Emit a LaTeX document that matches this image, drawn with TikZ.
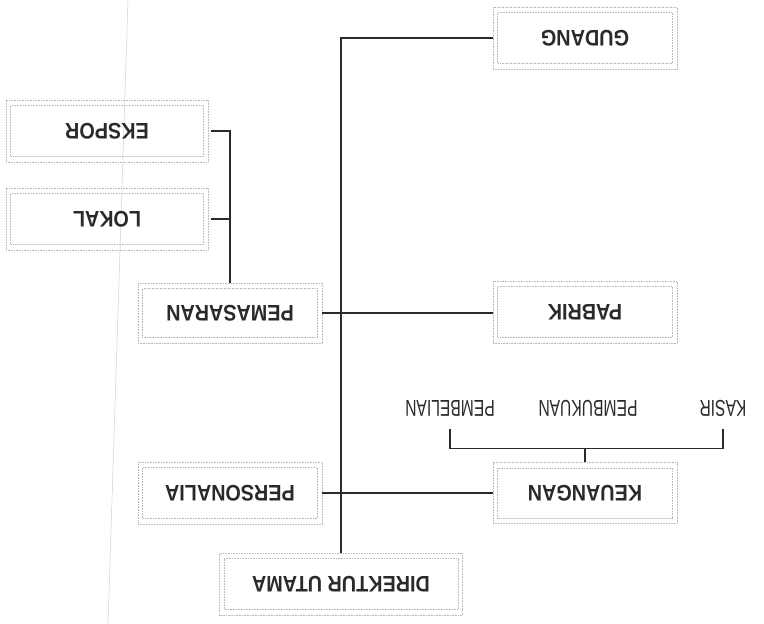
\documentclass[tikz,border=0pt]{standalone}
\usepackage{fontspec}
\usepackage{graphicx}
\setmainfont{Liberation Sans}
\newfontfamily\boldf[FakeStretch=0.88]{Liberation Sans}
\newfontfamily\narrowf[FakeStretch=0.68]{Liberation Sans}
\definecolor{linec}{HTML}{2A2A2A}
\definecolor{boxc}{HTML}{B8B8B8}
\definecolor{textc}{HTML}{2A2A2A}
\tikzset{
  unit box/.style={draw=boxc, densely dotted, line width=0.6pt, minimum height=62pt, minimum width=184pt, inner sep=0pt, text=textc},
  inner frame/.style={draw=boxc, densely dotted, line width=0.6pt},
  conn/.style={draw=linec, line width=1.3pt},
  sublabel/.style={inner sep=0pt, text=textc},
  scanline/.style={draw=black!18, line width=0.5pt}
}
\newcommand{\upsd}[1]{\rotatebox{180}{\fontsize{22.5}{24}\boldf\bfseries #1}}
\newcommand{\upsn}[1]{\rotatebox{180}{\fontsize{23}{24}\narrowf #1}}
\begin{document}
\begin{tikzpicture}[x=1pt, y=-1pt]
\useasboundingbox (0,0) rectangle (764,624);
\draw[scanline] (128,0) -- (108,624);
% boxes
\node[unit box] (gudang) at (585,38) {\upsd{GUDANG}};
\node[unit box, minimum width=202pt] (ekspor) at (107,131) {\upsd{EKSPOR}};
\node[unit box, minimum width=202pt] (lokal) at (107,219) {\upsd{LOKAL}};
\node[unit box, minimum height=60pt] (pemasaran) at (230,313) {\upsd{PEMASARAN}};
\node[unit box] (pabrik) at (585,312) {\upsd{PABRIK}};
\node[unit box, minimum height=61pt] (keuangan) at (585,493) {\upsd{KEUANGAN}};
\node[unit box] (personalia) at (230,493) {\upsd{PERSONALIA}};
\node[unit box, minimum width=243pt] (direktur) at (341,584) {\upsd{DIREKTUR UTAMA}};
% inner frames
\foreach \n in {gudang,ekspor,lokal,pemasaran,pabrik,keuangan,personalia,direktur}
  \draw[inner frame] ([shift={(5pt,-6pt)}]\n.north west) rectangle ([shift={(-5pt,6pt)}]\n.south east);
% sub labels
\node[sublabel] (kasir) at (723,408) {\upsn{KASIR}};
\node[sublabel] (pembukuan) at (588,408) {\upsn{PEMBUKUAN}};
\node[sublabel] (pembelian) at (450,408) {\upsn{PEMBELIAN}};
% connectors
\draw[conn] (gudang.west) -| (direktur.north);
\draw[conn] (pemasaran.east) -- (pemasaran.east -| pabrik.west);
\draw[conn] (personalia.east) -- (personalia.east -| keuangan.west);
\draw[conn] ([xshift=3pt]ekspor.east) -| (pemasaran.north);
\draw[conn] ([xshift=3pt]lokal.east) -- (lokal.east -| pemasaran.north);
\coordinate (kb) at ([yshift=14pt]keuangan.north);
\draw[conn] (keuangan.north) -- (kb);
\draw[conn] ([yshift=-13pt]pembelian.south) -- (pembelian.south |- kb) -- (kasir.south |- kb) -- ([yshift=-13pt]kasir.south);
\end{tikzpicture}
\end{document}
